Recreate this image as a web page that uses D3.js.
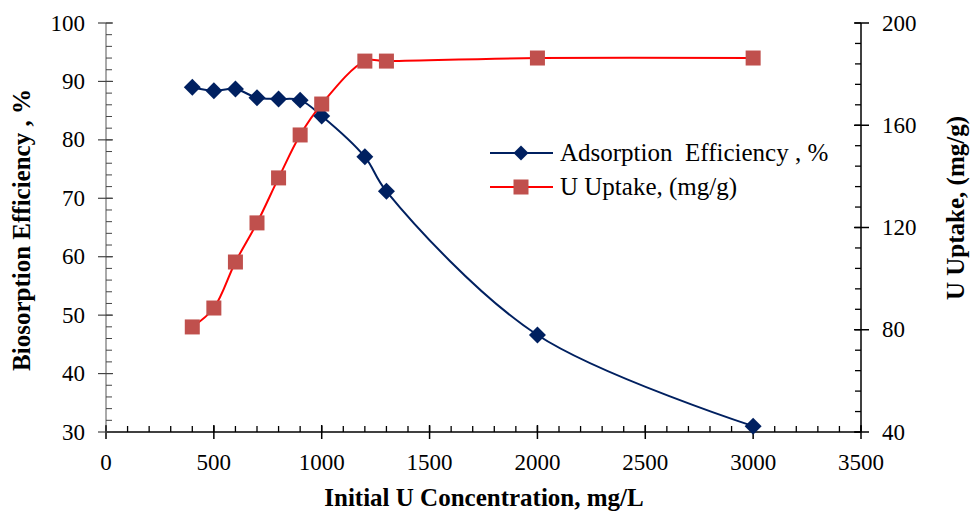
<!DOCTYPE html>
<html lang="en">
<head>
    <meta charset="UTF-8">
    <title>Adsorption Efficiency and U Uptake</title>
    <script src="https://d3js.org/d3.v7.min.js"></script>
    <style>
        body { margin: 0; background: #fff; }
    </style>
</head>
<body>
    <div id="chart"></div>
    <script>
        // data
        const concentration = [400, 500, 600, 700, 800, 900, 1000, 1200, 1300, 2000, 3000];
        const efficiency = [89.0, 88.4, 88.7, 87.2, 87.0, 86.8, 84.1, 77.1, 71.2, 46.6, 31.0];
        const uptake = [81.1, 88.5, 106.5, 121.8, 139.4, 156.2, 168.3, 185.1, 185.1, 186.3, 186.3];
        const xTicks = [0, 500, 1000, 1500, 2000, 2500, 3000, 3500];
        const yLeftTicks = [30, 40, 50, 60, 70, 80, 90, 100];
        const yRightTicks = [40, 80, 120, 160, 200];

        const width = 977, height = 512;
        const margin = { top: 23, right: 116, bottom: 80, left: 106 };
        const serif = "Liberation Serif";
        const tickSize = 23, titleSize = 25;

        const svg = d3.select("#chart").append("svg")
            .attr("width", width)
            .attr("height", height)
            .attr("font-family", serif);

        const x = d3.scaleLinear().domain([0, 3500]).range([margin.left, width - margin.right]);
        const yL = d3.scaleLinear().domain([30, 100]).range([height - margin.bottom, margin.top]);
        const yR = d3.scaleLinear().domain([40, 200]).range([height - margin.bottom, margin.top]);

        const navy = "#002060", brick = "#C0504D", red = "#FF0000";

        // x axis: minor ticks inside, major crossing
        const xAxis = svg.append("g").attr("transform", `translate(0,${yL.range()[0]})`);
        xAxis.append("line").attr("x1", x(0)).attr("x2", x(3500)).attr("stroke", "#000").attr("stroke-width", 1.5);
        xAxis.selectAll(".minor").data(d3.range(0, 3501, 100)).join("line")
            .attr("x1", d => x(d)).attr("x2", d => x(d)).attr("y1", 0).attr("y2", -6)
            .attr("stroke", "#000").attr("stroke-width", 1.3);
        xAxis.selectAll(".major").data(xTicks).join("line")
            .attr("x1", d => x(d)).attr("x2", d => x(d)).attr("y1", -7).attr("y2", 7)
            .attr("stroke", "#000").attr("stroke-width", 1.5);
        xAxis.selectAll("text").data(xTicks).join("text")
            .attr("x", d => x(d)).attr("y", 38).attr("text-anchor", "middle")
            .attr("font-size", tickSize).text(d => d);

        // left axis
        const lAxis = svg.append("g").attr("transform", `translate(${x(0)},0)`);
        lAxis.append("line").attr("y1", yL(30)).attr("y2", yL(100)).attr("stroke", "#555").attr("stroke-width", 1);
        lAxis.selectAll(".minor").data(d3.range(30, 101, 2)).join("line")
            .attr("y1", d => yL(d)).attr("y2", d => yL(d)).attr("x1", 0).attr("x2", 6)
            .attr("stroke", "#444").attr("stroke-width", 1);
        lAxis.selectAll(".major").data(yLeftTicks).join("line")
            .attr("y1", d => yL(d)).attr("y2", d => yL(d)).attr("x1", -8).attr("x2", 7)
            .attr("stroke", "#444").attr("stroke-width", 1.2);
        lAxis.selectAll("text").data(yLeftTicks).join("text")
            .attr("x", -21).attr("y", d => yL(d)).attr("dy", "0.33em").attr("text-anchor", "end")
            .attr("font-size", tickSize).text(d => d);

        // right axis
        const rAxis = svg.append("g").attr("transform", `translate(${x(3500)},0)`);
        rAxis.append("line").attr("y1", yR(40)).attr("y2", yR(200)).attr("stroke", "#000").attr("stroke-width", 1.5);
        rAxis.selectAll(".minor").data(d3.range(40, 201, 8)).join("line")
            .attr("y1", d => yR(d)).attr("y2", d => yR(d)).attr("x1", 0).attr("x2", -6)
            .attr("stroke", "#000").attr("stroke-width", 1.3);
        rAxis.selectAll(".major").data(yRightTicks).join("line")
            .attr("y1", d => yR(d)).attr("y2", d => yR(d)).attr("x1", -7).attr("x2", 8)
            .attr("stroke", "#000").attr("stroke-width", 1.5);
        rAxis.selectAll("text").data(yRightTicks).join("text")
            .attr("x", 21).attr("y", d => yR(d)).attr("dy", "0.33em").attr("text-anchor", "start")
            .attr("font-size", tickSize).text(d => d);

        // axis titles
        svg.append("text").attr("x", 484).attr("y", 506).attr("text-anchor", "middle")
            .attr("font-size", titleSize).attr("font-weight", "bold")
            .text("Initial U Concentration, mg/L");
        svg.append("text").attr("transform", "translate(30,230) rotate(-90)").attr("text-anchor", "middle")
            .attr("font-size", titleSize).attr("font-weight", "bold")
            .text("Biosorption Efficiency , %");
        svg.append("text").attr("transform", "translate(964,208) rotate(-90)").attr("text-anchor", "middle")
            .attr("font-size", titleSize).attr("font-weight", "bold")
            .text("U Uptake, (mg/g)");

        // series
        const effPts = concentration.map((c, i) => [c, efficiency[i]]);
        const upPts = concentration.map((c, i) => [c, uptake[i]]);

        const lineL = d3.line().x(d => x(d[0])).y(d => yL(d[1])).curve(d3.curveCatmullRom.alpha(0.5));
        const lineR = d3.line().x(d => x(d[0])).y(d => yR(d[1])).curve(d3.curveCatmullRom.alpha(0.5));

        svg.append("path").datum(effPts).attr("d", lineL)
            .attr("fill", "none").attr("stroke", navy).attr("stroke-width", 2);
        svg.append("path").datum(upPts).attr("d", lineR)
            .attr("fill", "none").attr("stroke", red).attr("stroke-width", 2);

        svg.selectAll(".eff").data(effPts).join("path")
            .attr("transform", d => `translate(${x(d[0])},${yL(d[1])}) rotate(45)`)
            .attr("d", d3.symbol().type(d3.symbolSquare).size(144))
            .attr("fill", navy);

        svg.selectAll(".up").data(upPts).join("rect")
            .attr("x", d => x(d[0]) - 7.5).attr("y", d => yR(d[1]) - 7.5)
            .attr("width", 15).attr("height", 15)
            .attr("fill", brick);

        // legend
        const legend = svg.append("g").attr("transform", "translate(490,153)");
        legend.append("line").attr("x1", 0).attr("x2", 63).attr("stroke", navy).attr("stroke-width", 2);
        legend.append("path").attr("transform", "translate(31,0) rotate(45)")
            .attr("d", d3.symbol().type(d3.symbolSquare).size(112)).attr("fill", navy);
        legend.append("text").attr("x", 70).attr("y", 0).attr("dy", "0.33em")
            .attr("font-size", 25).style("white-space", "pre")
            .text("Adsorption  Efficiency , %");

        const legend2 = svg.append("g").attr("transform", "translate(490,187)");
        legend2.append("line").attr("x1", 0).attr("x2", 63).attr("stroke", red).attr("stroke-width", 2);
        legend2.append("rect").attr("x", 23.5).attr("y", -7.5).attr("width", 15).attr("height", 15).attr("fill", brick);
        legend2.append("text").attr("x", 70).attr("y", 0).attr("dy", "0.33em")
            .attr("font-size", 25).text("U Uptake, (mg/g)");
    </script>
</body>
</html>
